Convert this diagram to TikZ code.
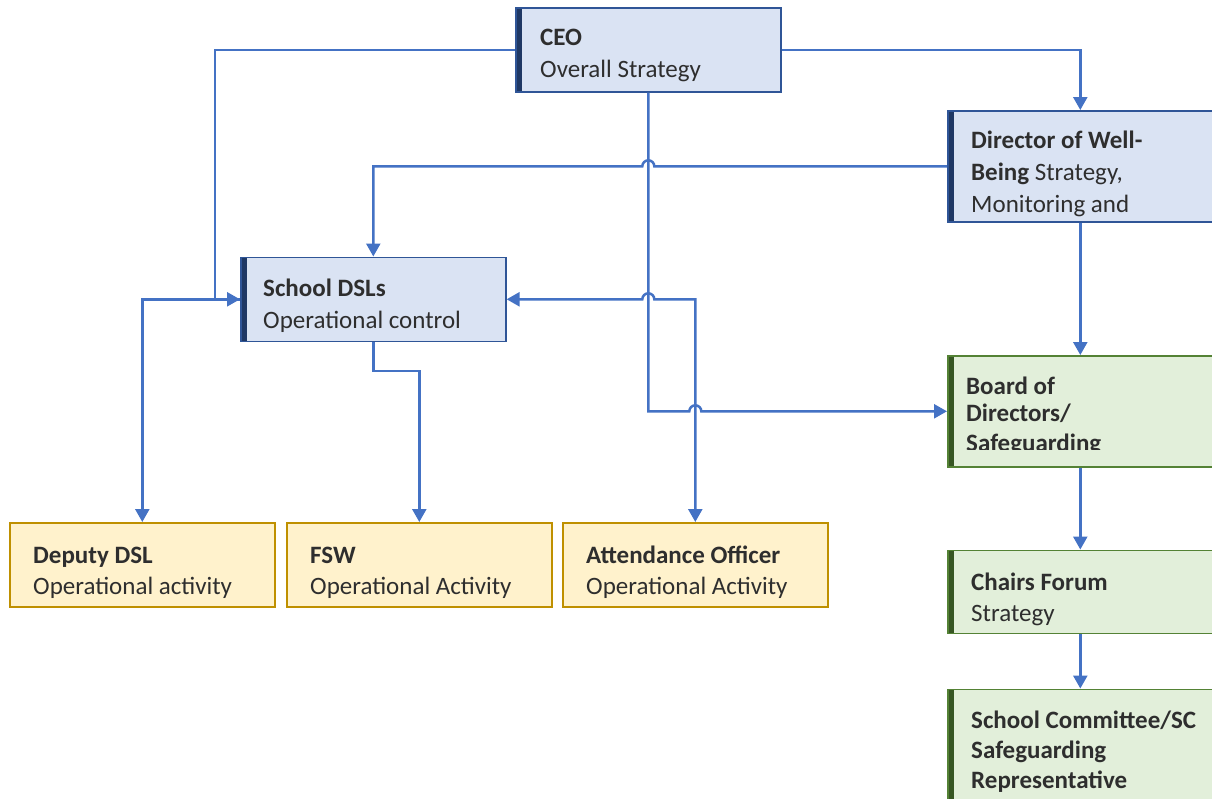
\documentclass[tikz,border=0pt]{standalone}
\usepackage{fontspec}
\setmainfont{Carlito}
\usetikzlibrary{arrows.meta,calc}
\definecolor{lineblue}{HTML}{4472C4}
\definecolor{bfill}{HTML}{DAE3F3}
\definecolor{bborder}{HTML}{2F5597}
\definecolor{bbar}{HTML}{1F3864}
\definecolor{gfill}{HTML}{E2EFDA}
\definecolor{gborder}{HTML}{548235}
\definecolor{gbar}{HTML}{375623}
\definecolor{yfill}{HTML}{FFF2CC}
\definecolor{yborder}{HTML}{BF9000}
\definecolor{ybar}{HTML}{7F6000}
\definecolor{txt}{HTML}{2E2E2E}
\begin{document}
\begin{tikzpicture}[x=1pt,y=-1pt,
  box/.style={line width=1.6pt, inner sep=0pt, minimum width=265pt, anchor=north west,
    path picture={\fill[#1] (path picture bounding box.north west) rectangle ([xshift=6pt]path picture bounding box.south west);}},
  bluebox/.style={box=bbar, fill=bfill, draw=bborder},
  greenbox/.style={box=gbar, fill=gfill, draw=gborder},
  yellowbox/.style={box=ybar, fill=yfill, draw=yborder},
  tx/.style={anchor=base west, inner sep=0pt, text=txt, font=\fontsize{25}{32}\selectfont},
  conn/.style={draw=lineblue, line width=2.5pt, -{Triangle[length=13pt,width=14pt]}},
  conn2/.style={draw=lineblue, line width=2.5pt, {Triangle[length=13pt,width=14pt]}-{Triangle[length=13pt,width=14pt]}}
]
\useasboundingbox (0,0) rectangle (1212,798);
\clip (0,0) rectangle (1212,798);

% boxes
\node[bluebox, minimum height=84pt] (ceo) at (515,7) {};
\node[bluebox, minimum height=111pt] (dir) at (947,110) {};
\node[bluebox, minimum height=84pt] (dsl) at (240,256.5) {};
\node[greenbox, minimum height=111pt] (board) at (947,355) {};
\node[greenbox, minimum height=83pt] (chairs) at (947,549.5) {};
\node[greenbox, minimum height=140pt] (sc) at (947,688.5) {};
\node[yellowbox, minimum height=84pt] (deputy) at (9,522) {};
\node[yellowbox, minimum height=84pt] (fsw) at (286,522) {};
\node[yellowbox, minimum height=84pt] (att) at (562,522) {};

% texts
\node[tx] (ceo1) at (540,45.5) {\bfseries CEO};
\node[tx] (ceo2) at (540,77.5) {Overall Strategy};
\node[tx] (dir1) at (971,148) {\bfseries Director of Well-};
\node[tx] (dir2) at (971,180) {\textbf{Being} Strategy,};
\node[tx] (dir3) at (971,212) {Monitoring and};
\node[tx] (dsl1) at (263,296) {\bfseries School DSLs};
\node[tx] (dsl2) at (263,328) {Operational control};
\begin{scope}
\clip (947,355) rectangle (1212,449);
\node[tx] (bo1) at (966,394.5) {\bfseries Board of};
\node[tx] (bo2) at (966,421.5) {\bfseries Directors/};
\node[tx] (bo3) at (966,451) {\bfseries Safeguarding};
\end{scope}
\node[tx] (ch1) at (971,590) {\bfseries Chairs Forum};
\node[tx] (ch2) at (971,621) {Strategy};
\node[tx] (sc1) at (971,728.5) {\bfseries School Committee/SC};
\node[tx] (sc2) at (971,758.5) {\bfseries Safeguarding};
\node[tx] (sc3) at (971,788.5) {\bfseries Representative};
\node[tx] (de1) at (33,563) {\bfseries Deputy DSL};
\node[tx] (de2) at (33,594.5) {Operational activity};
\node[tx] (fs1) at (310,563) {\bfseries FSW};
\node[tx] (fs2) at (310,594.5) {Operational Activity};
\node[tx] (at1) at (586,563) {\bfseries Attendance Officer};
\node[tx] (at2) at (586,594.5) {Operational Activity};

% connectors
\coordinate (k1) at (215,0);
\coordinate (k2) at (372,371);
\path[conn] (ceo.west) -- (k1 |- ceo.west) -- (k1 |- dsl.west) -- (dsl.west);
\path[conn] (dsl.west) -| (deputy.north);
\path[conn] (ceo.east) -| (dir.north);
\path[conn] (ceo.south) -- (ceo.south |- board.west)
   -- ($(att.north |- board.west)+(-6,0)$) arc (180:360:6) -- (board.west);
\path[conn] (dir.west) -- ($(ceo.south |- dir.west)+(6,0)$) arc (0:-180:6)
   -- (dsl.north |- dir.west) -- (dsl.north);
\path[conn] (dsl.south) -- (dsl.south |- k2) -- (fsw.north |- k2) -- (fsw.north);
\path[conn2] (dsl.east) -- ($(ceo.south |- dsl.east)+(-6,0)$) arc (180:360:6)
   -- (att.north |- dsl.east) -- (att.north);
\path[conn] (dir.south) -- (board.north);
\path[conn] (board.south) -- (chairs.north);
\path[conn] (chairs.south) -- (sc.north);
\end{tikzpicture}
\end{document}
